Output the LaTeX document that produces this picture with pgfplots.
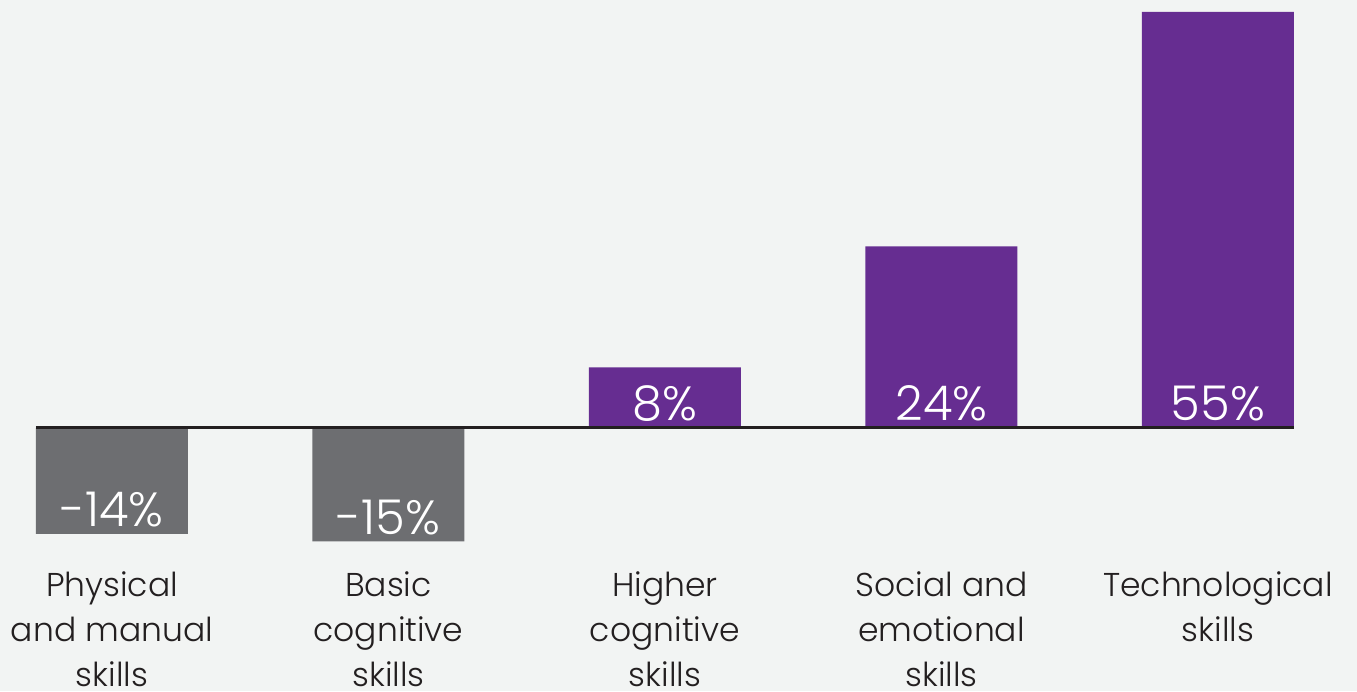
\documentclass[border=0pt]{standalone}
\usepackage{pgfplots}
\pgfplotsset{compat=1.18}
\usepackage{fontspec}
\setmainfont{Poppins}[UprightFont=* Light]
\definecolor{bg}{HTML}{F2F4F3}
\definecolor{barGray}{HTML}{6D6E71}
\definecolor{barPurple}{HTML}{662D91}
\definecolor{ink}{HTML}{231F20}
\begin{document}
\begin{tikzpicture}
\begin{axis}[
  scale only axis,
  width=678.5pt, height=345.5pt,
  xmin=-0.405, xmax=4.503,
  ymin=-34.77, ymax=56.58,
  axis background/.style={fill=bg},
  axis line style={draw=none},
  major tick length=0pt,
  ytick=\empty,
  xtick={0,1,2,3,4},
  xticklabels={Physical\\and manual\\skills, Basic\\cognitive\\skills, Higher\\cognitive\\skills, Social and\\emotional\\skills, Technological\\skills},
  xticklabel style={align=center, anchor=north, yshift=63pt, font=\fontsize{16.5}{22.5}\selectfont, text=ink},
  clip=false,
]
\addplot[ybar, bar width=76pt, bar shift=0pt, fill=barGray, draw=none] coordinates {(0,-14) (1,-15)};
\addplot[ybar, bar width=76pt, bar shift=0pt, fill=barPurple, draw=none] coordinates {(2,8) (3,24) (4,55)};
\addplot[ink, line width=1.5pt, mark=none] coordinates {(-0.275,0) (4.275,0)};
\addplot[draw=none, mark=none, nodes near coords, point meta=explicit symbolic,
  every node near coord/.style={anchor=base, yshift=3.5pt, inner sep=0pt, text=white, font=\fontsize{24}{28}\selectfont}]
  coordinates {(0,-14) [-14\%] (1,-15) [-15\%] (2,0) [8\%] (3,0) [24\%] (4,0) [55\%]};
\end{axis}
\pgfresetboundingbox
\path[use as bounding box] (current axis.south west) rectangle (current axis.north east);
\end{tikzpicture}
\end{document}
